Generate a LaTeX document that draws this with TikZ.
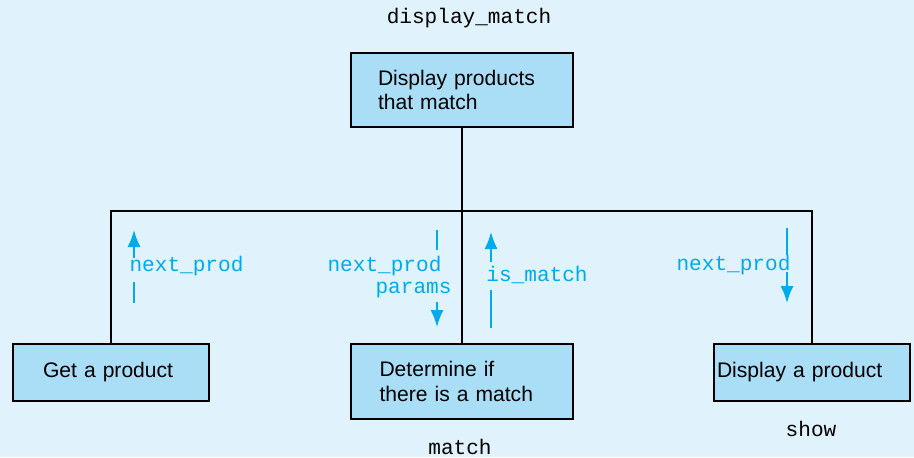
\documentclass[tikz,border=0pt]{standalone}
\usepackage{fontspec}
\setmainfont{Liberation Sans}
\setmonofont{Liberation Mono}
\usepackage{tikz}
\usetikzlibrary{arrows, arrows.meta, positioning}
\definecolor{pagebg}{RGB}{224,242,252}
\definecolor{boxfill}{RGB}{170,222,247}
\definecolor{flowcyan}{RGB}{0,170,235}

\begin{document}
\begin{tikzpicture}[node distance=2cm]
 \tikzstyle{modbox}=[rectangle,draw=black,line width=1.1pt,fill=boxfill,
   font=\fontsize{12}{14}\selectfont,align=left]
 \tikzstyle{modname}=[font=\ttfamily\fontsize{12}{14}\selectfont,inner sep=0pt]
 \tikzstyle{flowlbl}=[font=\ttfamily\fontsize{12}{14}\selectfont,text=flowcyan,inner sep=0pt]
 \tikzstyle{flow}=[draw=flowcyan,line width=1pt]
 \tikzstyle{flowtip}=[-{Latex[length=3.4mm,width=2.6mm]}]
 \fill[pagebg] (0,0) rectangle (18.28,9.14);
 \useasboundingbox (0,0) rectangle (18.28,9.14);
 % modules
 \node (top) [modbox,minimum width=4.44cm,minimum height=1.48cm,
   text width=3.36cm,inner xsep=0.54cm] at (9.24,7.34)
   {Display products\\that match};
 \node (get) [modbox,minimum width=3.92cm,minimum height=1.14cm,
   text width=2.72cm,inner xsep=0.6cm] at (2.22,1.69) {Get a product};
 \node (det) [modbox,minimum width=4.44cm,minimum height=1.5cm,
   text width=3.3cm,inner xsep=0.57cm] at (9.24,1.51)
   {Determine if\\there is a match};
 \node (shw) [modbox,minimum width=3.92cm,minimum height=1.14cm,
   text width=3.8cm,inner xsep=0.06cm] at (16.24,1.69) {Display a product};
 \node (topname) [modname] at (9.38,8.78) {display\_match};
 \node (detname) [modname] at (9.2,0.2) {match};
 \node (shwname) [modname] at (16.22,0.56) {show};
 % tree lines
 \coordinate (bar) at (9.24,4.92);
 \draw[line width=1pt] (top.south) -- (bar);
 \draw[line width=1pt] (get.north) |- (bar) -| (shw.north);
 \draw[line width=1pt] (bar) -- (det.north);
 % data flows
 \node (np1) [flowlbl] at (3.73,3.82) {next\_prod};
 \coordinate (f1) at (2.68,4.54);
 \draw[flow,flowtip] (2.68,3.98) -- (f1);
 \draw[flow] (2.68,3.5) -- (2.68,3.08);
 \node (np2) [flowlbl] at (7.69,3.82) {next\_prod};
 \node (par) [flowlbl] at (8.27,3.34) {params};
 \coordinate (f2) at (8.74,2.6);
 \draw[flow] (8.74,4.54) -- (8.74,4.14);
 \draw[flow,flowtip] (8.74,3.1) -- (f2);
 \node (ism) [flowlbl] at (10.74,3.64) {is\_match};
 \coordinate (f3) at (9.82,4.5);
 \draw[flow,flowtip] (9.82,3.9) -- (f3);
 \draw[flow] (9.82,3.34) -- (9.82,2.58);
 \node (np3) [flowlbl] at (14.67,3.84) {next\_prod};
 \coordinate (f4) at (15.74,3.08);
 \draw[flow] (15.74,4.58) -- (15.74,4.04);
 \draw[flow,flowtip] (15.74,3.7) -- (f4);
\end{tikzpicture}
\end{document}
